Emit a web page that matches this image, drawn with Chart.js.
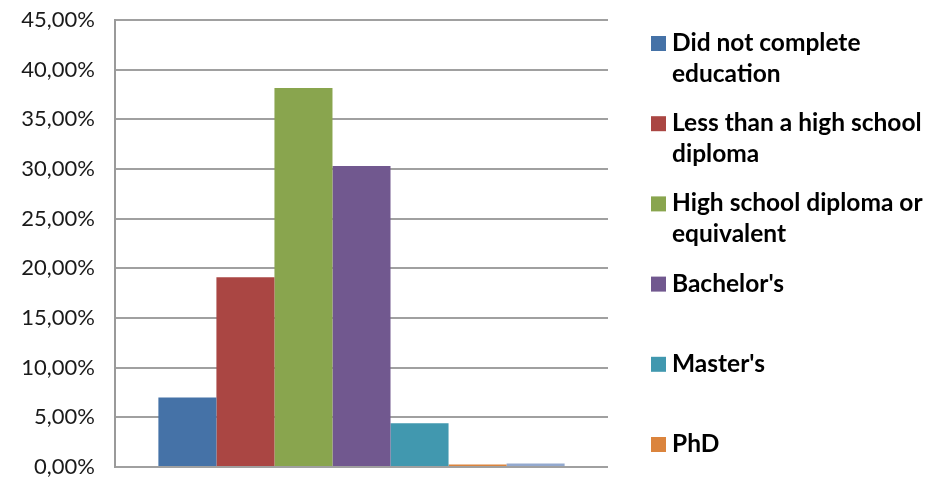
<!DOCTYPE html>
<html>
<head>
<meta charset="utf-8">
<script src="https://cdn.jsdelivr.net/npm/chart.js@4/dist/chart.umd.min.js"></script>
<style>
  html, body { margin: 0; padding: 0; background: #fff; }
  #wrap { position: relative; width: 931px; height: 483px; }
</style>
</head>
<body>
<div id="wrap"><canvas id="grafik"></canvas></div>
<script>
// data
const kategori = [''];
const namaSeri = [
  ['Did not complete', 'education'],
  ['Less than a high school', 'diploma'],
  ['High school diploma or', 'equivalent'],
  ["Bachelor's"],
  ["Master's"],
  ['PhD'],
  null
];
const nilai = [7.0, 19.1, 38.15, 30.3, 4.4, 0.25, 0.35];
const warna = ['#4572A7', '#AA4643', '#89A54E', '#71588F', '#4198AF', '#DB843D', '#93A9CF'];
const tickY = [0, 5, 10, 15, 20, 25, 30, 35, 40, 45];

const FONT = 'Lato, "Open Sans", sans-serif';

// legend digambar sendiri, karena teksnya dibungkus dua baris
const legendaKanan = {
  id: 'legendaKanan',
  afterDraw(chart) {
    const ctx = chart.ctx;
    ctx.save();
    ctx.font = 'bold 24.5px ' + FONT;
    ctx.textBaseline = 'middle';
    ctx.fillStyle = '#000';
    const x0 = 651, y0 = 43, langkah = 80.2, baris = 31;
    chart.data.datasets.forEach((ds, i) => {
      const teks = namaSeri[i];
      if (!teks) return;
      const y = y0 + i * langkah;
      ctx.fillStyle = ds.backgroundColor;
      ctx.fillRect(x0, y - 7, 15, 15);
      ctx.fillStyle = '#000';
      teks.forEach((t, j) => ctx.fillText(t, x0 + 21, y + j * baris));
    });
    ctx.restore();
  }
};

const chart = new Chart(document.getElementById('grafik'), {
  type: 'bar',
  data: {
    labels: kategori,
    datasets: nilai.map((v, i) => ({
      label: namaSeri[i] ? namaSeri[i].join(' ') : '',
      data: [v],
      backgroundColor: warna[i],
      barPercentage: 1,
      categoryPercentage: 0.824
    }))
  },
  options: {
    responsive: true,
    maintainAspectRatio: false,
    animation: false,
    layout: { padding: { left: 0, right: 323, top: 20, bottom: 16 } },
    plugins: { legend: { display: false }, tooltip: { enabled: false } },
    scales: {
      x: { display: false },
      y: {
        min: 0, max: 45,
        afterBuildTicks: (ax) => { ax.ticks = tickY.map(v => ({ value: v })); },
        afterFit: (ax) => { ax.width = 115; ax.paddingTop = 0; ax.paddingBottom = 0; },
        border: { display: true, color: '#9a9a9a', width: 2 },
        grid: { color: '#a0a0a0', lineWidth: 2, drawTicks: false },
        ticks: {
          padding: 20,
          color: '#1a1a1a',
          font: { family: FONT, size: 22 },
          callback: (v) => v.toFixed(2).replace('.', ',') + '%'
        }
      }
    }
  },
  plugins: [legendaKanan]
});
</script>
</body>
</html>
